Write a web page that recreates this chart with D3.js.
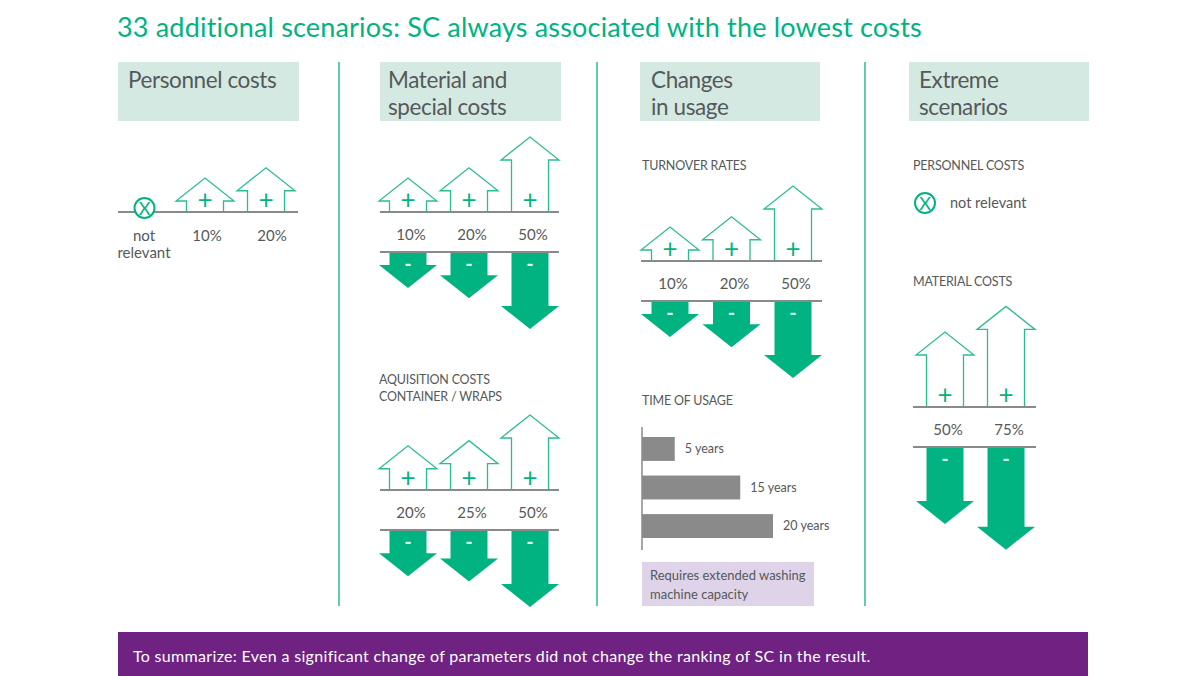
<!DOCTYPE html>
<html>
<head>
<meta charset="utf-8">
<style>
  html, body { margin: 0; padding: 0; background: #fff; }
  svg { display: block; }
  text { font-family: Lato, "Noto Sans", sans-serif; }
</style>
</head>
<body>
<svg id="chart" width="1200" height="676"></svg>
<script src="https://cdnjs.cloudflare.com/ajax/libs/d3/7.2.1/d3.min.js"></script>
<script>
  const titleText = "33 additional scenarios: SC always associated with the lowest costs";
  const summaryText = "To summarize: Even a significant change of parameters did not change the ranking of SC in the result.";

  const personnelLabels = ["not relevant", "10%", "20%"];
  const personnelUp = [null, 10, 20];

  const materialLabels = ["10%", "20%", "50%"];
  const materialUp = [10, 20, 50];
  const materialDown = [10, 20, 50];

  const acquisitionLabels = ["20%", "25%", "50%"];
  const acquisitionUp = [20, 25, 50];
  const acquisitionDown = [20, 25, 50];

  const turnoverLabels = ["10%", "20%", "50%"];
  const turnoverUp = [10, 20, 50];
  const turnoverDown = [10, 20, 50];

  const extremeLabels = ["50%", "75%"];
  const extremeUp = [50, 75];
  const extremeDown = [50, 75];

  const usageYears = [5, 15, 20];
  const usageLabels = ["5 years", "15 years", "20 years"];

  const GREEN = "#00b381";
  const GREY = "#8a8a8a";
  const TEXT = "#55595a";
  const HEAD_H = 23, HEAD_W = 58, SHAFT_W = 37;

  const svg = d3.select("#chart");

  // arrow length grows with the percentage
  const arrowLen = d3.scaleLinear().domain([10, 50]).range([34, 75]);
  const barLen = d3.scaleLinear().domain([0, 20]).range([0, 131]);

  // vertical arrow, dir -1 points up and dir 1 points down
  const arrowPath = (cx, y0, len, dir) => {
    const p = d3.path();
    const s = SHAFT_W / 2, h = HEAD_W / 2;
    p.moveTo(cx - s, y0);
    p.lineTo(cx - s, y0 + dir * (len - HEAD_H));
    p.lineTo(cx - h, y0 + dir * (len - HEAD_H));
    p.lineTo(cx, y0 + dir * len);
    p.lineTo(cx + h, y0 + dir * (len - HEAD_H));
    p.lineTo(cx + s, y0 + dir * (len - HEAD_H));
    p.lineTo(cx + s, y0);
    return p.toString();
  };

  const hline = (x1, x2, y) => svg.append("line")
    .attr("x1", x1).attr("x2", x2).attr("y1", y).attr("y2", y)
    .attr("stroke", GREY).attr("stroke-width", 2);

  const label = (x, y, str, size, anchor) => svg.append("text")
    .attr("x", x).attr("y", y)
    .attr("font-size", size)
    .attr("fill", TEXT)
    .attr("text-anchor", anchor || "start")
    .text(str);

  const heading = (x, y, str) => label(x, y, str, 12.5).attr("letter-spacing", -0.2);

  function drawUp(x, labels, values, y0) {
    values.forEach((v, i) => {
      if (v === null) return;
      const cx = x(labels[i]);
      svg.append("path")
        .attr("d", arrowPath(cx, y0, arrowLen(v), -1))
        .attr("fill", "#fff")
        .attr("stroke", "#2cbc94")
        .attr("stroke-width", 1.3);
      svg.append("text")
        .attr("x", cx).attr("y", y0 - 3.5)
        .attr("text-anchor", "middle")
        .attr("font-size", 26)
        .attr("fill", GREEN)
        .text("+");
    });
  }

  function drawDown(x, labels, values, y0) {
    values.forEach((v, i) => {
      const cx = x(labels[i]);
      svg.append("path")
        .attr("d", arrowPath(cx, y0, arrowLen(v) + 1, 1))
        .attr("fill", GREEN);
      svg.append("text")
        .attr("x", cx).attr("y", y0 + 18)
        .attr("text-anchor", "middle")
        .attr("font-size", 20)
        .attr("font-weight", "bold")
        .attr("fill", "#d9f3ea")
        .text("-");
    });
  }

  function upDownGroup(labels, up, down, x1, x2, cxRange, y0) {
    const x = d3.scalePoint().domain(labels).range(cxRange);
    drawUp(x, labels, up, y0);
    hline(x1, x2, y0);
    labels.forEach(l => label(x(l) + 3, y0 + 27.5, l, 15, "middle"));
    hline(x1, x2, y0 + 40);
    drawDown(x, labels, down, y0 + 41);
  }

  function marker(cx, cy) {
    svg.append("circle")
      .attr("cx", cx).attr("cy", cy).attr("r", 10)
      .attr("fill", "#fff").attr("stroke", GREEN).attr("stroke-width", 2);
    svg.append("text")
      .attr("x", cx).attr("y", cy + 6.5)
      .attr("text-anchor", "middle")
      .attr("font-size", 18)
      .attr("fill", GREEN)
      .text("X");
  }

  // title
  svg.append("text")
    .attr("x", 117).attr("y", 37)
    .attr("font-size", 27)
    .attr("letter-spacing", 0.18)
    .attr("fill", GREEN)
    .text(titleText);

  // column separators
  [339, 597, 865].forEach(x => svg.append("line")
    .attr("x1", x).attr("x2", x).attr("y1", 62).attr("y2", 606)
    .attr("stroke", "#2cbc94").attr("stroke-width", 1.5));

  // column headers
  const headers = [
    { x: 118, w: 181, lines: ["Personnel costs"], tx: 128 },
    { x: 380, w: 181, lines: ["Material and", "special costs"], tx: 388 },
    { x: 640, w: 180, lines: ["Changes", "in usage"], tx: 651 },
    { x: 909, w: 180, lines: ["Extreme", "scenarios"], tx: 919 }
  ];
  headers.forEach(h => {
    svg.append("rect")
      .attr("x", h.x).attr("y", 62).attr("width", h.w).attr("height", 59)
      .attr("fill", "#d5e9e3");
    h.lines.forEach((t, i) => label(h.tx, 88 + i * 27, t, 22.5).attr("letter-spacing", -0.4));
  });

  // personnel costs
  const personnelX = d3.scalePoint().domain(personnelLabels).range([144, 266]);
  drawUp(personnelX, personnelLabels, personnelUp, 212);
  hline(118, 298, 212);
  marker(144.5, 208);
  label(144, 241, "not", 15, "middle");
  label(144, 258, "relevant", 15, "middle");
  label(207, 241, personnelLabels[1], 15, "middle");
  label(272, 241, personnelLabels[2], 15, "middle");

  // material and special costs
  upDownGroup(materialLabels, materialUp, materialDown, 380, 559, [408, 530], 212);
  heading(379, 384, "AQUISITION COSTS");
  heading(379, 401, "CONTAINER / WRAPS");
  upDownGroup(acquisitionLabels, acquisitionUp, acquisitionDown, 380, 559, [408, 530], 490);

  // changes in usage
  heading(642, 170, "TURNOVER RATES");
  upDownGroup(turnoverLabels, turnoverUp, turnoverDown, 641, 822, [670, 793], 261);
  heading(642, 405, "TIME OF USAGE");

  const usageY = d3.scaleBand().domain(usageLabels).range([437, 538]).paddingInner(0.38);
  usageYears.forEach((v, i) => {
    svg.append("rect")
      .attr("x", 642).attr("y", usageY(usageLabels[i]))
      .attr("width", barLen(v)).attr("height", usageY.bandwidth())
      .attr("fill", GREY);
    label(642 + barLen(v) + 10, usageY(usageLabels[i]) + usageY.bandwidth() / 2 + 4, usageLabels[i], 12.5);
  });
  svg.append("line")
    .attr("x1", 642).attr("x2", 642).attr("y1", 427).attr("y2", 550)
    .attr("stroke", GREY).attr("stroke-width", 1.5);

  svg.append("rect")
    .attr("x", 642).attr("y", 562).attr("width", 172).attr("height", 44)
    .attr("fill", "#dfd3e9");
  label(650, 580, "Requires extended washing", 13);
  label(650, 599, "machine capacity", 13);

  // extreme scenarios
  heading(913, 170, "PERSONNEL COSTS");
  marker(925, 203);
  label(950, 208, "not relevant", 14.5);
  heading(913, 286, "MATERIAL COSTS");
  upDownGroup(extremeLabels, extremeUp, extremeDown, 913, 1036, [945, 1006], 407);

  // summary band
  svg.append("rect")
    .attr("x", 118).attr("y", 632).attr("width", 970).attr("height", 44)
    .attr("fill", "#6f2282");
  svg.append("text")
    .attr("x", 133).attr("y", 662)
    .attr("font-size", 16)
    .attr("letter-spacing", 0.32)
    .attr("fill", "#fff")
    .text(summaryText);
</script>
</body>
</html>
